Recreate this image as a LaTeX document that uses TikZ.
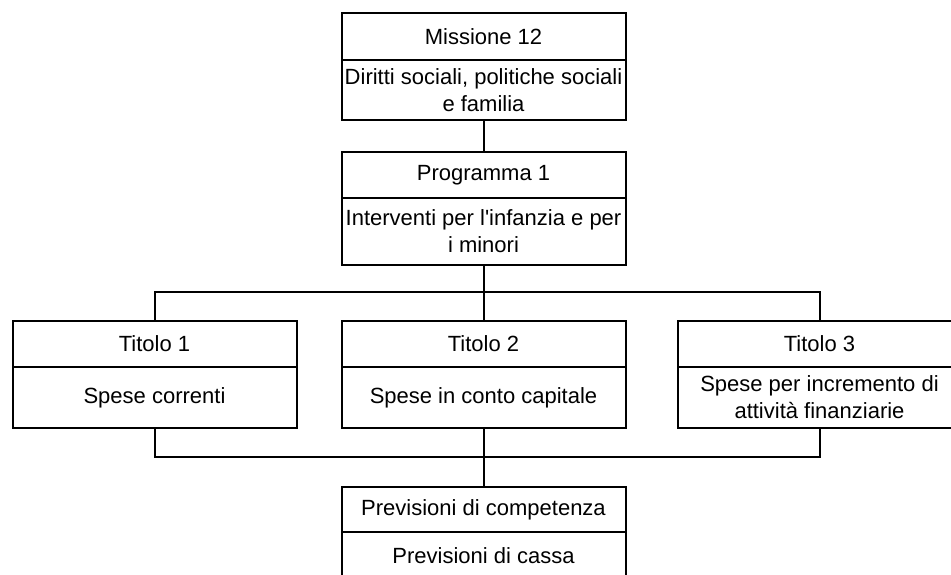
\documentclass[tikz,border=0pt]{standalone}
\usepackage{fontspec}
\setmainfont{Liberation Sans}[Ligatures=TeXOff]
\begin{document}
\begin{tikzpicture}[x=1pt,y=-1pt,
  box/.style={draw=black,line width=2pt,rectangle,inner sep=0pt,outer sep=0pt,
    minimum width=#1,align=center,font=\fontsize{22}{27}\selectfont},
  box/.default=284pt,
  conn/.style={draw=black,line width=2pt}]
\clip (0,0) rectangle (951,574);
\fill[white] (0,0) rectangle (951,574);
% Missione
\node[box,minimum height=47pt] (m1) at (483.5,36.5) {Missione 12};
\node[box,minimum height=60pt] (m2) at (483.5,90) {Diritti sociali, politiche sociali\\e familia};
% Programma
\node[box,minimum height=46pt] (p1) at (483.5,175) {Programma 1};
\node[box,minimum height=67pt] (p2) at (483.5,231.5) {Interventi per l'infanzia e per\\i minori};
% Titoli
\node[box,minimum height=46pt] (t1a) at (154.5,344) {Titolo 1};
\node[box,minimum height=61pt] (t1b) at (154.5,397.5) {Spese correnti};
\node[box,minimum height=46pt] (t2a) at (483.5,344) {Titolo 2};
\node[box,minimum height=61pt] (t2b) at (483.5,397.5) {Spese in conto capitale};
\node[box,minimum height=46pt] (t3a) at (819.5,344) {Titolo 3};
\node[box,minimum height=61pt] (t3b) at (819.5,397.5) {Spese per incremento di\\attività finanziarie};
% Previsioni
\node[box,minimum height=45pt] (v1) at (483.5,509.5) {Previsioni di competenza};
\node[box,minimum height=48pt] (v2) at (483.5,556) {Previsioni di cassa};
% connectors
\coordinate (busT) at (483.5,292);
\coordinate (busB) at (483.5,457);
\draw[conn] (m2.south) -- (p1.north);
\draw[conn] (p2.south) -- (busT);
\draw[conn] (t1a.north) |- (busT) -| (t3a.north);
\draw[conn] (busT) -- (t2a.north);
\draw[conn] (t1b.south) |- (busB) -| (t3b.south);
\draw[conn] (t2b.south) -- (busB) -- (v1.north);
\end{tikzpicture}
\end{document}
